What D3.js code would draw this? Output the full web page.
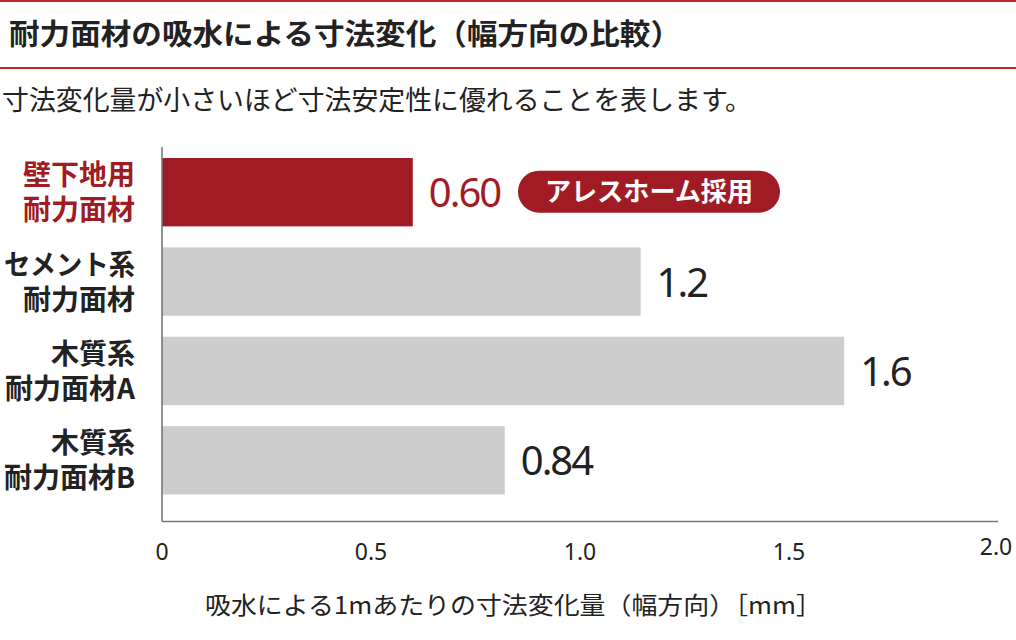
<!DOCTYPE html>
<html>
<head>
<meta charset="utf-8">
<script src="https://cdn.jsdelivr.net/npm/d3@7"></script>
<style>
  html, body { margin: 0; padding: 0; background: #fff; }
  svg { display: block; }
</style>
</head>
<body>
<svg id="chart" width="1016" height="640"></svg>
<script>
// ---- data ----
const titleText = "耐力面材の吸水による寸法変化（幅方向の比較）";
const subtitleText = "寸法変化量が小さいほど寸法安定性に優れることを表します。";
const axisTitle = "吸水による1mあたりの寸法変化量（幅方向）［mm］";
const categoryLine1 = ["壁下地用", "セメント系", "木質系", "木質系"];
const categoryLine2 = ["耐力面材", "耐力面材", "耐力面材A", "耐力面材B"];
const barValues = [0.60, 1.145, 1.632, 0.82];
const valueLabels = ["0.60", "1.2", "1.6", "0.84"];
const highlight = [true, false, false, false];
const badgeText = "アレスホーム採用";
const tickValues = [0, 0.5, 1.0, 1.5, 2.0];
const tickLabels = ["0", "0.5", "1.0", "1.5", "2.0"];

// ---- styles ----
const RED = "#a11b24";
const GRAY = "#cdcdcd";
const TEXT = "#222222";
const JP = "'Noto Sans CJK JP', 'Noto Sans', sans-serif";
const NUM = "'Noto Sans', 'Open Sans', sans-serif";

const svg = d3.select("#chart");

// header lines
svg.append("rect").attr("x", 0).attr("y", 0).attr("width", 1016).attr("height", 2).attr("fill", "#c0272d");
svg.append("rect").attr("x", 0).attr("y", 67).attr("width", 1016).attr("height", 2).attr("fill", "#c0272d");

svg.append("text")
  .attr("x", 9).attr("y", 45)
  .attr("font-family", JP).attr("font-weight", 700).attr("font-size", 29)
  .attr("fill", TEXT)
  .attr("textLength", 672).attr("lengthAdjust", "spacingAndGlyphs")
  .text(titleText);

svg.append("text")
  .attr("x", 2).attr("y", 110)
  .attr("font-family", JP).attr("font-weight", 400).attr("font-size", 27)
  .attr("fill", TEXT)
  .attr("textLength", 750).attr("lengthAdjust", "spacingAndGlyphs")
  .text(subtitleText);

// scales
const x = d3.scaleLinear().domain([0, 2]).range([162, 998]);
const y = d3.scaleBand().domain(d3.range(barValues.length))
  .range([158, 494.5]).paddingInner(0.235).paddingOuter(0);

// bars
svg.append("g").selectAll("rect").data(barValues).join("rect")
  .attr("x", x(0))
  .attr("y", (d, i) => y(i))
  .attr("width", d => x(d) - x(0))
  .attr("height", y.bandwidth())
  .attr("fill", (d, i) => highlight[i] ? RED : GRAY);

// axes lines
svg.append("line").attr("x1", x(0)).attr("x2", x(0)).attr("y1", 147).attr("y2", 521.5)
  .attr("stroke", "#777").attr("stroke-width", 1.6);
svg.append("line").attr("x1", x(0)).attr("x2", x(2)).attr("y1", 521.5).attr("y2", 521.5)
  .attr("stroke", "#777").attr("stroke-width", 1.6);

// tick labels
svg.append("g").selectAll("text").data(tickValues).join("text")
  .attr("x", d => Math.min(x(d), 996))
  .attr("y", (d, i) => i === tickValues.length - 1 ? 555 : 560)
  .attr("text-anchor", "middle")
  .attr("font-family", NUM).attr("font-size", 23)
  .attr("fill", TEXT)
  .text((d, i) => tickLabels[i]);

// axis title
svg.append("text")
  .attr("x", 205).attr("y", 614)
  .attr("font-family", JP).attr("font-size", 24)
  .attr("fill", TEXT)
  .attr("textLength", 617).attr("lengthAdjust", "spacingAndGlyphs")
  .text(axisTitle);

// category labels
const catG = svg.append("g");
barValues.forEach((d, i) => {
  const cy = y(i) + y.bandwidth() / 2;
  [[categoryLine1[i], cy - 7], [categoryLine2[i], cy + 28]].forEach(([txt, ty]) => {
    const t = catG.append("text")
      .attr("x", 135).attr("y", ty)
      .attr("text-anchor", "end")
      .attr("font-family", JP).attr("font-weight", 700).attr("font-size", 28)
      .attr("fill", highlight[i] ? RED : TEXT)
      .text(txt);
    const len = t.node().getComputedTextLength();
    if (len > 131) t.attr("textLength", 131).attr("lengthAdjust", "spacingAndGlyphs");
  });
});

// value labels
svg.append("g").selectAll("text").data(barValues).join("text")
  .attr("x", d => x(d) + 16)
  .attr("y", (d, i) => y(i) + y.bandwidth() / 2 + 15)
  .attr("font-family", NUM).attr("font-size", 40)
  .attr("letter-spacing", -2)
  .attr("fill", (d, i) => highlight[i] ? RED : TEXT)
  .text((d, i) => valueLabels[i]);

// badge
const bx = 518, bw = 262, bh = 42;
const by = y(0) + y.bandwidth() / 2 - bh / 2 - 0.5;
svg.append("rect").attr("x", bx).attr("y", by).attr("width", bw).attr("height", bh)
  .attr("rx", bh / 2).attr("ry", bh / 2).attr("fill", RED);
svg.append("text")
  .attr("x", bx + bw / 2).attr("y", by + bh / 2 + 9.5)
  .attr("text-anchor", "middle")
  .attr("font-family", JP).attr("font-weight", 700).attr("font-size", 26)
  .attr("fill", "#fff")
  .attr("textLength", 208).attr("lengthAdjust", "spacingAndGlyphs")
  .text(badgeText);
</script>
</body>
</html>
